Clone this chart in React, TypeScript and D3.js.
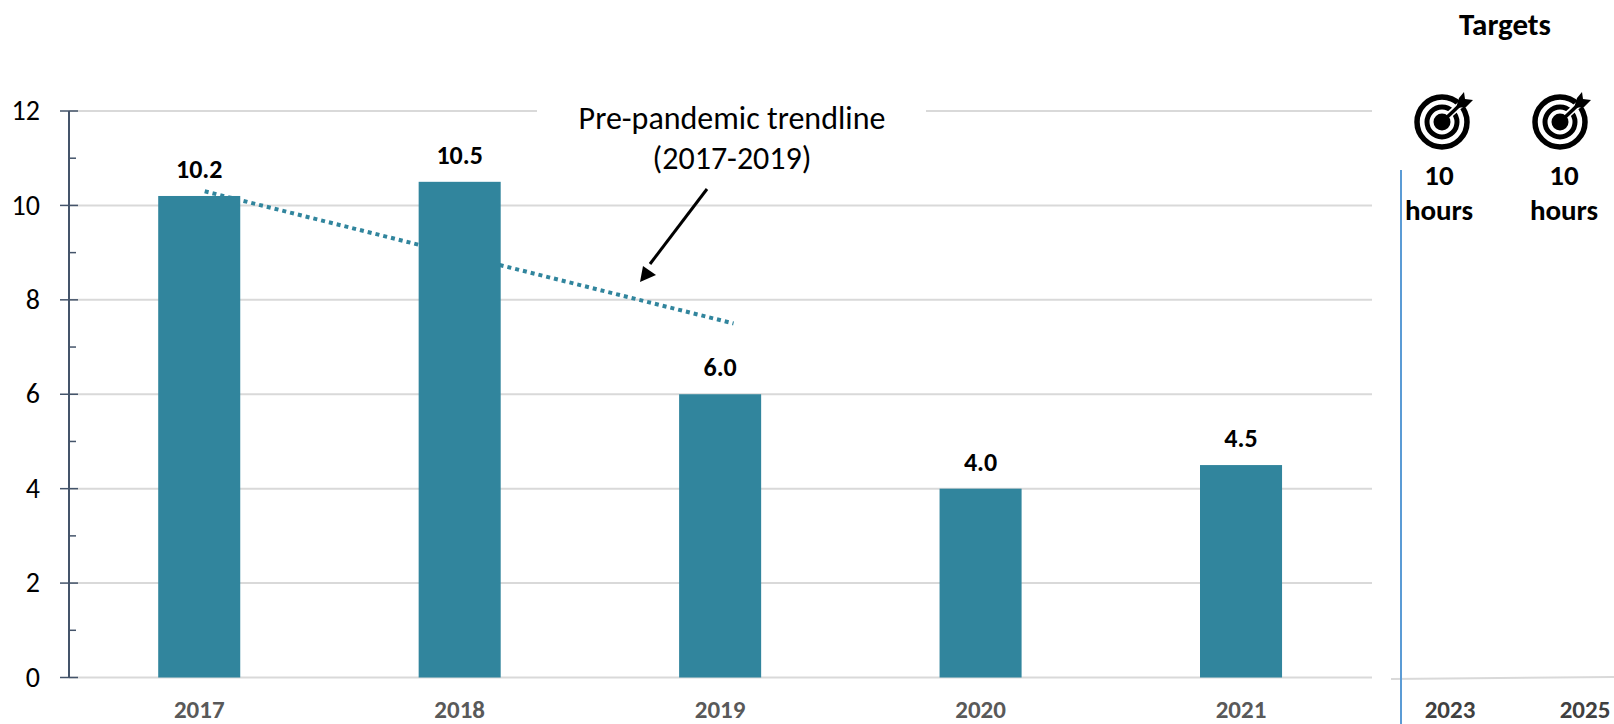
import React, { useEffect, useRef } from "react";
import * as d3 from "d3";

const years = ["2017", "2018", "2019", "2020", "2021"];
const hours = [10.2, 10.5, 6.0, 4.0, 4.5];
const yTicks = [0, 2, 4, 6, 8, 10, 12];
const yMinorTicks = [1, 3, 5, 7, 9, 11];
const trendYears = [2017.02, 2019.05];
const trendValues = [10.3, 7.5];
const targetYears = ["2023", "2025"];
const targetValues = ["10", "10"];

const width = 1614;
const height = 724;
const font = "Carlito, Calibri, Lato, sans-serif";
const barColor = "#31859d";

const x = d3.scaleBand().domain(years).range([69, 1371.25]).paddingInner(0.685).paddingOuter(0.3425);
const y = d3.scaleLinear().domain([0, 12]).range([677.5, 111]);
const trendX = d3.scaleLinear().domain([2017, 2021]).range([199.5, 1241.5]);

function drawTarget(g) {
  // rings
  [[25, 5.5], [15, 5]].forEach(([r, w]) => {
    g.append("circle").attr("r", r).attr("fill", "none").attr("stroke", "#000").attr("stroke-width", w);
  });
  g.append("circle").attr("r", 8.5).attr("fill", "#000");
  // white gap round the arrow, then the arrow
  g.append("line").attr("x1", 8).attr("y1", -8).attr("x2", 26).attr("y2", -24).attr("stroke", "#fff").attr("stroke-width", 7);
  g.append("line").attr("x1", 0).attr("y1", 0).attr("x2", 20).attr("y2", -19).attr("stroke", "#000").attr("stroke-width", 3.5);
  g.append("path").attr("d", "M14,-14 L17,-24 L22,-30 L23,-23 L31,-22 L24,-15 Z").attr("fill", "#000");
}

export default function App() {
  const ref = useRef<SVGSVGElement>(null);

  useEffect(() => {
    const svg = d3.select(ref.current);
    svg.selectAll("*").remove();
    svg.style("font-family", font);

    // gridlines
    svg
      .append("g")
      .selectAll("line")
      .data(yTicks)
      .enter()
      .append("line")
      .attr("x1", 69)
      .attr("x2", 1372)
      .attr("y1", (d) => y(d))
      .attr("y2", (d) => y(d))
      .attr("stroke", "#d9d9d9")
      .attr("stroke-width", 2);

    // annotation box hides the top gridline
    svg.append("rect").attr("x", 537).attr("y", 100).attr("width", 389).attr("height", 80).attr("fill", "#fff");

    // trendline sits under the bars
    const trend = d3
      .line<number>()
      .x((d, i) => trendX(trendYears[i]))
      .y((d) => y(d));
    svg
      .append("path")
      .attr("d", trend(trendValues))
      .attr("fill", "none")
      .attr("stroke", barColor)
      .attr("stroke-width", 4)
      .attr("stroke-dasharray", "4 4");

    svg
      .append("g")
      .selectAll("rect")
      .data(hours)
      .enter()
      .append("rect")
      .attr("x", (d, i) => x(years[i]))
      .attr("width", x.bandwidth())
      .attr("y", (d) => y(d))
      .attr("height", (d) => y(0) - y(d))
      .attr("fill", barColor);

    svg
      .append("g")
      .selectAll("text")
      .data(hours)
      .enter()
      .append("text")
      .attr("x", (d, i) => x(years[i]) + x.bandwidth() / 2)
      .attr("y", (d) => y(d) - 18)
      .attr("text-anchor", "middle")
      .attr("font-size", 26)
      .attr("font-weight", 700)
      .attr("fill", "#000")
      .text((d) => d.toFixed(1));

    // y axis
    const axis = svg.append("g").attr("stroke", "#44546a");
    axis.append("line").attr("x1", 69).attr("x2", 69).attr("y1", y(12)).attr("y2", y(0)).attr("stroke-width", 2);
    axis
      .selectAll(".major")
      .data(yTicks)
      .enter()
      .append("line")
      .attr("class", "major")
      .attr("x1", 60)
      .attr("x2", 78)
      .attr("y1", (d) => y(d))
      .attr("y2", (d) => y(d))
      .attr("stroke-width", 1.5);
    axis
      .selectAll(".minor")
      .data(yMinorTicks)
      .enter()
      .append("line")
      .attr("class", "minor")
      .attr("x1", 69)
      .attr("x2", 76)
      .attr("y1", (d) => y(d))
      .attr("y2", (d) => y(d))
      .attr("stroke-width", 1.5);

    svg
      .append("g")
      .selectAll("text")
      .data(yTicks)
      .enter()
      .append("text")
      .attr("x", 40)
      .attr("y", (d) => y(d))
      .attr("dy", "0.33em")
      .attr("text-anchor", "end")
      .attr("font-size", 28)
      .attr("fill", "#000")
      .text((d) => d);

    svg
      .append("g")
      .selectAll("text")
      .data(years)
      .enter()
      .append("text")
      .attr("x", (d) => x(d) + x.bandwidth() / 2)
      .attr("y", 718)
      .attr("text-anchor", "middle")
      .attr("font-size", 25)
      .attr("font-weight", 700)
      .attr("fill", "#595959")
      .text((d) => d);

    // annotation
    const note = svg.append("g").attr("text-anchor", "middle").attr("font-size", 32).attr("fill", "#000");
    note.append("text").attr("x", 732).attr("y", 129).text("Pre-pandemic trendline");
    note.append("text").attr("x", 732).attr("y", 169).text("(2017-2019)");
    svg.append("line").attr("x1", 707).attr("y1", 189).attr("x2", 650).attr("y2", 264).attr("stroke", "#000").attr("stroke-width", 3);
    svg.append("path").attr("d", "M640,282 L643,266 L656,275 Z").attr("fill", "#000");

    // targets panel
    svg.append("line").attr("x1", 1391).attr("y1", 679).attr("x2", 1614).attr("y2", 677).attr("stroke", "#d9d9d9").attr("stroke-width", 2);
    svg.append("line").attr("x1", 1401).attr("y1", 170).attr("x2", 1401).attr("y2", 724).attr("stroke", "#5b9bd5").attr("stroke-width", 2);
    svg
      .append("text")
      .attr("x", 1505)
      .attr("y", 35)
      .attr("text-anchor", "middle")
      .attr("font-size", 31)
      .attr("font-weight", 700)
      .attr("fill", "#000")
      .text("Targets");

    const iconX = [1442, 1560];
    const labelX = [1439, 1564];
    const yearX = [1450, 1585];
    targetValues.forEach((v, i) => {
      drawTarget(svg.append("g").attr("transform", `translate(${iconX[i]},122)`));
      const t = svg.append("g").attr("text-anchor", "middle").attr("font-size", 29).attr("font-weight", 700).attr("fill", "#000");
      t.append("text").attr("x", labelX[i]).attr("y", 185).text(v);
      t.append("text").attr("x", labelX[i]).attr("y", 220).text("hours");
      svg
        .append("text")
        .attr("x", yearX[i])
        .attr("y", 718)
        .attr("text-anchor", "middle")
        .attr("font-size", 25)
        .attr("font-weight", 700)
        .attr("fill", "#404040")
        .text(targetYears[i]);
    });
  }, []);

  return <svg ref={ref} width={width} height={height} style={{ position: "absolute", left: 0, top: 0, background: "#fff" }} />;
}
